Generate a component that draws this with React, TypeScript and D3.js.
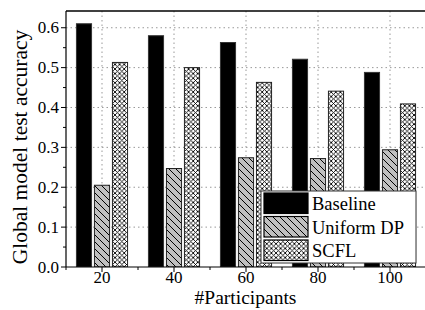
import React from "react";
import * as d3 from "d3";

const participants = [20, 40, 60, 80, 100];
const baseline = [0.61, 0.58, 0.563, 0.521, 0.488];
const uniformDP = [0.205, 0.247, 0.274, 0.272, 0.294];
const scfl = [0.513, 0.5, 0.463, 0.441, 0.409];
const yTicks = [0, 0.1, 0.2, 0.3, 0.4, 0.5, 0.6];
const seriesNames = ["Baseline", "Uniform DP", "SCFL"];

const W = 425;
const H = 310;
const left = 66;
const top = 11;
const bottom = 267;
const right = 426;
const font = "Liberation Serif, serif";

const fills = ["#000", "url(#diag)", "url(#cross)"];

export default function App() {
  const x = d3.scaleLinear().domain([10, 110]).range([left, right]);
  const y = d3.scaleLinear().domain([0, 0.642]).range([bottom, top]);
  const barW = x(14.2) - x(10);
  const step = x(15) - x(10);
  const series = [baseline, uniformDP, scfl];
  const minorY = d3.range(0.05, 0.64, 0.1);
  const minorX = d3.range(10, 111, 10).filter((d) => d % 20 !== 0);

  return (
    <svg
      width={W}
      height={H}
      style={{ position: "absolute", left: 0, top: 0, background: "#fff", fontFamily: font }}
    >
      <defs>
        <pattern id="diag" patternUnits="userSpaceOnUse" width={7} height={7}>
          <rect width={7} height={7} fill="#c0c0c0" />
          <path d="M0,0L7,7M-1,6L1,8M6,-1L8,1" stroke="#000" strokeWidth={1} />
        </pattern>
        <pattern id="cross" patternUnits="userSpaceOnUse" width={4.6} height={4.6}>
          <rect width={4.6} height={4.6} fill="#fff" />
          <path d="M0,0L4.6,4.6M4.6,0L0,4.6" stroke="#000" strokeWidth={0.9} />
        </pattern>
        <clipPath id="plot">
          <rect x={left} y={top} width={W - left} height={bottom - top} />
        </clipPath>
      </defs>

      {/* grid */}
      <g stroke="#999" strokeWidth={1} strokeDasharray="1.5,3">
        {yTicks.slice(1).map((t) => (
          <line key={t} x1={left} x2={W} y1={y(t)} y2={y(t)} />
        ))}
        {participants.map((p) => (
          <line key={p} x1={x(p)} x2={x(p)} y1={top} y2={bottom} />
        ))}
      </g>

      {/* bars */}
      <g clipPath="url(#plot)">
        {series.map((vals, si) =>
          vals.map((v, i) => {
            const cx = x(participants[i]) + (si - 1) * step;
            return (
              <rect
                key={si + "-" + i}
                x={cx - barW / 2}
                y={y(v)}
                width={barW}
                height={y(0) - y(v)}
                fill={fills[si]}
                stroke={si === 0 ? "#333" : "#222"}
                strokeWidth={1}
              />
            );
          })
        )}
      </g>

      {/* frame */}
      <g stroke="#000" fill="none">
        <line x1={left} x2={W} y1={top} y2={top} strokeWidth={1.5} />
        <line x1={left} x2={left} y1={top} y2={bottom} strokeWidth={1.2} />
        <line x1={left} x2={W} y1={bottom} y2={bottom} strokeWidth={1.2} />
      </g>

      {/* ticks */}
      <g stroke="#000" strokeWidth={1}>
        {yTicks.map((t) => (
          <line key={t} x1={left - 5} x2={left} y1={y(t)} y2={y(t)} />
        ))}
        {minorY.map((t) => (
          <line key={t} x1={left - 3} x2={left} y1={y(t)} y2={y(t)} />
        ))}
        {participants.map((p) => (
          <line key={p} x1={x(p)} x2={x(p)} y1={bottom} y2={bottom + 5} />
        ))}
        {minorX.map((p) => (
          <line key={p} x1={x(p)} x2={x(p)} y1={bottom} y2={bottom + 3} />
        ))}
      </g>
      <g fontSize={17} textAnchor="end" fill="#000">
        {yTicks.map((t) => (
          <text key={t} x={left - 7} y={y(t) + 5.7}>
            {d3.format(".1f")(t)}
          </text>
        ))}
      </g>
      <g fontSize={17} textAnchor="middle" fill="#000">
        {participants.map((p) => (
          <text key={p} x={x(p)} y={bottom + 16}>
            {p}
          </text>
        ))}
      </g>
      <text x={245.5} y={304} fontSize={19.5} textAnchor="middle">
        #Participants
      </text>
      <text
        transform={`translate(27,147) rotate(-90)`}
        fontSize={21.5}
        textAnchor="middle"
      >
        Global model test accuracy
      </text>

      {/* legend */}
      <g>
        <rect x={261} y={191} width={155} height={72} fill="#fff" stroke="#333" strokeWidth={1} />
        {seriesNames.map((n, i) => {
          const ry = 193 + i * 23.5;
          return (
            <g key={n}>
              <rect x={264} y={ry} width={44} height={20.5} fill={fills[i]} stroke="#000" strokeWidth={1.2} />
              <text x={312} y={ry + 17} fontSize={18.5}>
                {n}
              </text>
            </g>
          );
        })}
      </g>
    </svg>
  );
}
